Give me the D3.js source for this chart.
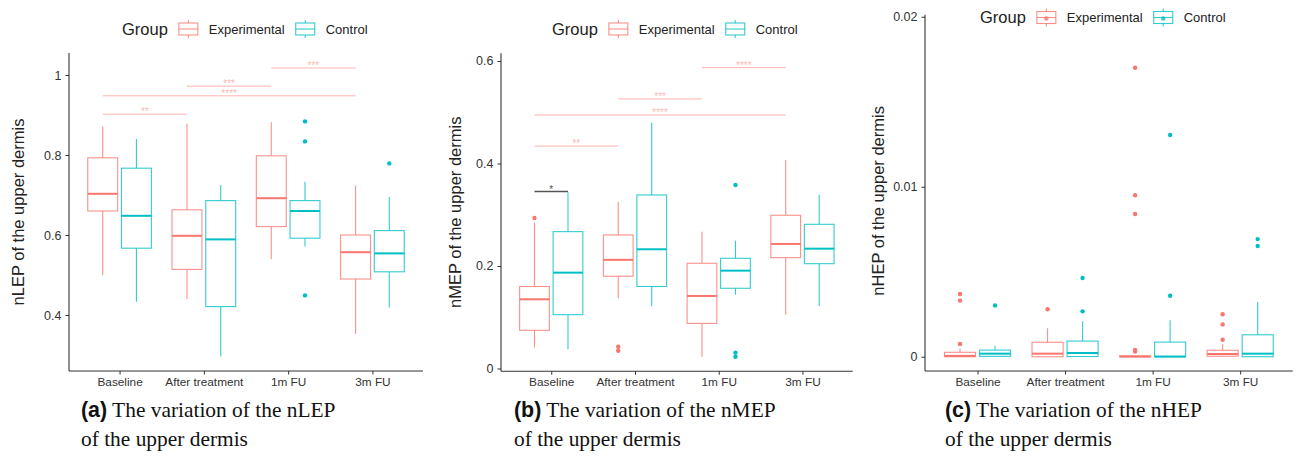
<!DOCTYPE html>
<html>
<head>
<meta charset="utf-8">
<script src="https://cdn.jsdelivr.net/npm/d3@7"></script>
<style>
  html, body { margin: 0; padding: 0; background: #fff; }
  svg { display: block; font-family: "Liberation Sans", Arial, sans-serif; }
</style>
</head>
<body>
<svg id="chart" width="1304" height="456"></svg>
<script>
// ---------------- DATA ----------------
const categories = ["Baseline", "After treatment", "1m FU", "3m FU"];
const groups = ["Experimental", "Control"];
const groupColors = ["#F8766D", "#00BFC4"];

// box stats per category: [lower whisker, Q1, median, Q3, upper whisker]
const nlepExp  = [[0.500, 0.660, 0.703, 0.793, 0.871], [0.440, 0.514, 0.598, 0.663, 0.879], [0.540, 0.621, 0.692, 0.798, 0.882], [0.353, 0.490, 0.557, 0.600, 0.723]];
const nlepCtrl = [[0.433, 0.567, 0.648, 0.767, 0.840], [0.296, 0.421, 0.589, 0.686, 0.725], [0.571, 0.592, 0.660, 0.686, 0.733], [0.419, 0.508, 0.554, 0.611, 0.695]];
const nlepExpOut  = [[], [], [], []];
const nlepCtrlOut = [[], [], [0.884, 0.834, 0.449], [0.779]];
const nlepTicks = [0.4, 0.6, 0.8, 1];
const nlepSig = [
  ["Baseline", "Experimental", "After treatment", "Experimental", 0.902, "**"],
  ["Baseline", "Experimental", "3m FU", "Experimental", 0.948, "****"],
  ["After treatment", "Experimental", "1m FU", "Experimental", 0.972, "***"],
  ["1m FU", "Experimental", "3m FU", "Experimental", 1.0175, "***"]
];

const nmepExp  = [[0.041, 0.0745, 0.135, 0.160, 0.285], [0.137, 0.180, 0.212, 0.2605, 0.3255], [0.023, 0.088, 0.1415, 0.2053, 0.267], [0.105, 0.2163, 0.243, 0.299, 0.4068]];
const nmepCtrl = [[0.0375, 0.105, 0.187, 0.267, 0.344], [0.1213, 0.160, 0.2326, 0.3385, 0.480], [0.144, 0.1565, 0.1909, 0.215, 0.2494], [0.122, 0.2045, 0.2338, 0.2813, 0.339]];
const nmepExpOut  = [[0.2937], [0.0425, 0.0347], [], []];
const nmepCtrlOut = [[], [], [0.358, 0.0309, 0.023], []];
const nmepTicks = [0, 0.2, 0.4, 0.6];
const nmepSig = [
  ["Baseline", "Experimental", "Baseline", "Control", 0.3453, "*"],
  ["Baseline", "Experimental", "After treatment", "Experimental", 0.434, "**"],
  ["Baseline", "Experimental", "3m FU", "Experimental", 0.4946, "****"],
  ["After treatment", "Experimental", "1m FU", "Experimental", 0.5259, "***"],
  ["1m FU", "Experimental", "3m FU", "Experimental", 0.587, "****"]
];

const nhepExp  = [[0, 0, 0.00005, 0.00026, 0.00049], [0, 0, 0.00018, 0.00085, 0.00167], [0, 0, 0.00001, 0.00005, 0.0001], [0, 0.00003, 0.00016, 0.00038, 0.00073]];
const nhepCtrl = [[0, 0.00002, 0.00018, 0.00039, 0.00065], [0, 0.00001, 0.00022, 0.00092, 0.00208], [0, 0, 0.00001, 0.00086, 0.00214], [0, 0, 0.00018, 0.00129, 0.00322]];
const nhepExpOut  = [[0.00369, 0.0033, 0.00075], [0.00279], [0.017, 0.0095, 0.0084, 0.0004, 0.0003], [0.0025, 0.0019, 0.001]];
const nhepCtrlOut = [[0.00302], [0.00463, 0.00267], [0.01304, 0.00359], [0.00692, 0.00651]];
const nhepTicks = [0, 0.01, 0.02];
const nhepSig = [];

const yTitles = ["nLEP of the upper dermis", "nMEP of the upper dermis", "nHEP of the upper dermis"];
const captionTags = ["a", "b", "c"];
const captionLine1 = [" The variation of the nLEP", " The variation of the nMEP", " The variation of the nHEP"];
const captionLine2 = ["of the upper dermis", "of the upper dermis", "of the upper dermis"];

// ---------------- LAYOUT ----------------
const SANS = "'Liberation Sans', Arial, sans-serif";
const SERIF = "'Liberation Serif', 'Times New Roman', serif";
const svg = d3.select("#chart");
const panels = [
  { stats: [nlepExp, nlepCtrl], outs: [nlepExpOut, nlepCtrlOut], ticks: nlepTicks, sig: nlepSig,
    yDomain: [0.26, 1.055], xr: [69, 423], yr: [371, 53], titleX: 18, legendY: 29, legendX: 122,
    keyDot: false, capX: 81 },
  { stats: [nmepExp, nmepCtrl], outs: [nmepExpOut, nmepCtrlOut], ticks: nmepTicks, sig: nmepSig,
    yDomain: [-0.0055, 0.615], xr: [501, 852.7], yr: [371.3, 53.3], titleX: 455, legendY: 29, legendX: 552,
    keyDot: false, capX: 514 },
  { stats: [nhepExp, nhepCtrl], outs: [nhepExpOut, nhepCtrlOut], ticks: nhepTicks, sig: nhepSig,
    yDomain: [-0.00084, 0.02012], xr: [925, 1292.7], yr: [371, 14.7], titleX: 878, legendY: 17.5, legendX: 980,
    keyDot: true, capX: 945 }
];

const axisColor = "#333";
const dodge = 0.2, boxW = 0.355;

panels.forEach((p, pi) => {
  const g = svg.append("g");
  const x = d3.scalePoint().domain(categories).range(p.xr).padding(0.6);
  const y = d3.scaleLinear().domain(p.yDomain).range(p.yr);
  const step = x.step();
  const gx = (cat, grp) => x(cat) + (groups.indexOf(grp) === 0 ? -dodge : dodge) * step;

  // significance brackets
  p.sig.forEach(s => {
    const x1 = gx(s[0], s[1]), x2 = gx(s[2], s[3]);
    const yy = y(s[4]);
    const within = s[1] === s[3];
    const col = within ? "#F8766D" : "#555555";
    const op = within ? 0.55 : 1;
    g.append("line").attr("x1", x1).attr("x2", x2).attr("y1", yy).attr("y2", yy)
      .attr("stroke", col).attr("stroke-opacity", op).attr("stroke-width", within ? 1 : 1.4);
    g.append("text").attr("x", (x1 + x2) / 2).attr("y", yy + 1).attr("text-anchor", "middle")
      .style("font-family", SANS).attr("font-size", 10).attr("fill", col).attr("fill-opacity", op).text(s[5]);
  });

  // boxplots
  groups.forEach((grp, gi) => {
    const col = groupColors[gi];
    categories.forEach((cat, ci) => {
      const st = p.stats[gi][ci];
      const cx = gx(cat, grp);
      const hw = boxW * step / 2;
      const bg = g.append("g");
      bg.append("line").attr("x1", cx).attr("x2", cx).attr("y1", y(st[4])).attr("y2", y(st[3]))
        .attr("stroke", col).attr("stroke-opacity", 0.8).attr("stroke-width", 1.1);
      bg.append("line").attr("x1", cx).attr("x2", cx).attr("y1", y(st[1])).attr("y2", y(st[0]))
        .attr("stroke", col).attr("stroke-opacity", 0.8).attr("stroke-width", 1.1);
      bg.append("rect").attr("x", cx - hw).attr("width", 2 * hw)
        .attr("y", y(st[3])).attr("height", Math.max(0.5, y(st[1]) - y(st[3])))
        .attr("fill", "#fff").attr("stroke", col).attr("stroke-opacity", 0.8).attr("stroke-width", 1.1);
      bg.append("line").attr("x1", cx - hw).attr("x2", cx + hw).attr("y1", y(st[2])).attr("y2", y(st[2]))
        .attr("stroke", col).attr("stroke-width", 2);
      p.outs[gi][ci].forEach(v => {
        bg.append("circle").attr("cx", cx).attr("cy", y(v)).attr("r", 2.2).attr("fill", col);
      });
    });
  });

  // axes
  const yAxis = d3.axisLeft(y).tickValues(p.ticks).tickSize(3.5).tickPadding(4)
    .tickFormat(d => String(d));
  const ya = g.append("g").attr("transform", `translate(${p.xr[0]},0)`).call(yAxis);
  ya.select(".domain").attr("d", `M0,${p.yr[1]}V${p.yr[0]}`);
  const xAxis = d3.axisBottom(x).tickSize(3.5).tickPadding(3);
  const xa = g.append("g").attr("transform", `translate(0,${p.yr[0]})`).call(xAxis);
  xa.select(".domain").attr("d", `M${p.xr[0]},0H${p.xr[1]}`);
  [ya, xa].forEach(a => {
    a.select(".domain").attr("stroke", axisColor).attr("stroke-width", 1.1);
    a.selectAll(".tick line").attr("stroke", axisColor);
    a.selectAll(".tick text").attr("fill", "#333").style("font-family", SANS);
  });
  ya.selectAll(".tick text").style("font-size", "12.5px");
  xa.selectAll(".tick text").style("font-size", "11.8px");

  // y title
  const cy = (p.yr[0] + p.yr[1]) / 2 + (pi === 2 ? 8 : 0);
  g.append("text").attr("transform", `translate(${p.titleX},${cy}) rotate(-90)`)
    .attr("text-anchor", "middle").attr("dominant-baseline", "central").style("font-family", SANS)
    .attr("font-size", 16.5).attr("fill", "#222").text(yTitles[pi]);

  // legend
  const lg = g.append("g");
  const ly = p.legendY;
  const gt = lg.append("text").attr("x", p.legendX).attr("y", ly + 5.8).attr("font-size", 16.5)
    .style("font-family", SANS).attr("fill", "#222").text("Group");
  let cursor = p.legendX + gt.node().getComputedTextLength() + 11;
  groups.forEach((grp, gi) => {
    const col = groupColors[gi];
    const kx = cursor, kw = 19;
    lg.append("line").attr("x1", kx + kw / 2).attr("x2", kx + kw / 2).attr("y1", ly - 9).attr("y2", ly + 9)
      .attr("stroke", col).attr("stroke-opacity", 0.8).attr("stroke-width", 1.1);
    lg.append("rect").attr("x", kx).attr("y", ly - 6).attr("width", kw).attr("height", 12)
      .attr("fill", "#fff").attr("stroke", col).attr("stroke-opacity", 0.8).attr("stroke-width", 1.1);
    lg.append("line").attr("x1", kx).attr("x2", kx + kw).attr("y1", ly).attr("y2", ly)
      .attr("stroke", col).attr("stroke-opacity", 0.8).attr("stroke-width", 1.1);
    if (p.keyDot) {
      lg.append("circle").attr("cx", kx + kw / 2).attr("cy", ly + 1).attr("r", 2.2).attr("fill", col).attr("fill-opacity", 0.8);
    }
    const t = lg.append("text").attr("x", kx + kw + 11).attr("y", ly + 4.6).attr("font-size", 13)
      .style("font-family", SANS).attr("fill", "#222").text(grp);
    cursor = kx + kw + 11 + t.node().getComputedTextLength() + 11;
  });

  // caption
  const cap = g.append("text").attr("x", p.capX).attr("y", 417).attr("font-size", 21.4).attr("fill", "#111")
    .style("font-family", SERIF);
  cap.append("tspan").style("font-family", SANS).attr("font-weight", "bold").text("(" + captionTags[pi] + ")");
  cap.append("tspan").style("font-family", SERIF).text(captionLine1[pi]);
  g.append("text").attr("x", p.capX).attr("y", 446).attr("font-size", 21.4).attr("fill", "#111")
    .style("font-family", SERIF).text(captionLine2[pi]);
});
</script>
</body>
</html>
